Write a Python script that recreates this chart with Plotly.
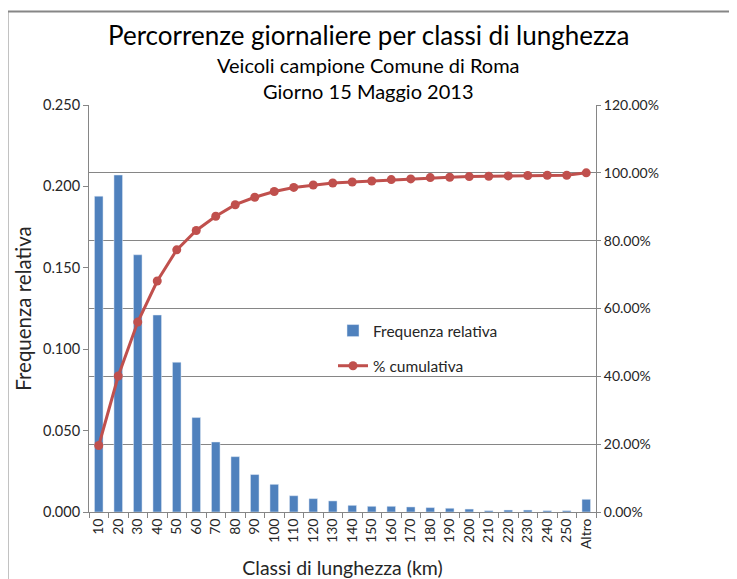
import plotly.graph_objects as go

# Data
classi = ['10', '20', '30', '40', '50', '60', '70', '80', '90', '100',
          '110', '120', '130', '140', '150', '160', '170', '180', '190', '200',
          '210', '220', '230', '240', '250', 'Altro']
frequenza = [0.194, 0.207, 0.158, 0.121, 0.092, 0.058, 0.043, 0.034, 0.023, 0.017,
             0.010, 0.0082, 0.0068, 0.0041, 0.0035, 0.0035, 0.0031, 0.0027, 0.0023, 0.0018,
             0.0008, 0.0012, 0.0012, 0.0008, 0.0008, 0.0078]
cumulativa = [0.196, 0.401, 0.560, 0.681, 0.773, 0.830, 0.872, 0.906, 0.928, 0.945,
              0.957, 0.964, 0.970, 0.973, 0.976, 0.980, 0.982, 0.986, 0.987, 0.989,
              0.990, 0.991, 0.992, 0.993, 0.993, 1.000]

COLORS = {
    'bar': '#4F81BD',
    'line': '#C0504D',
    'axis': '#868686',
    'text': '#262626',
}
FONT = 'Lato, sans-serif'

# page offset of the figure (body margin) and plot area in page pixels
OFF = 8
FIG_W, FIG_H = 737 - OFF, 579 - OFF
L, T = 89 - OFF, 105 - OFF
W, H = 507, 407
R, B = FIG_W - L - W, FIG_H - T - H


def px_x(x):
    # page pixel -> paper x
    return (x - OFF - L) / W


def px_y(y):
    # page pixel -> paper y
    return (T + H - (y - OFF)) / H


fig = go.Figure()

fig.add_trace(go.Bar(
    x=classi, y=frequenza,
    name='Frequenza relativa',
    marker_color=COLORS['bar'],
    legendgroup='a',
    yaxis='y',
))

fig.add_trace(go.Scatter(
    x=classi, y=cumulativa,
    name='% cumulativa',
    mode='lines+markers',
    line=dict(color=COLORS['line'], width=3),
    marker=dict(color=COLORS['line'], size=9),
    legendgroup='b',
    yaxis='y2',
))

fig.update_layout(
    width=FIG_W, height=FIG_H,
    margin=dict(l=L, r=R, t=T, b=B, autoexpand=False),
    paper_bgcolor='white',
    plot_bgcolor='white',
    font=dict(family=FONT, color=COLORS['text'], size=14),
    bargap=0.56,
    showlegend=True,
    legend=dict(
        x=px_x(333), y=px_y(314), xanchor='left', yanchor='top',
        bgcolor='rgba(0,0,0,0)',
        font=dict(size=15.5, family=FONT),
        traceorder='grouped',
        tracegroupgap=12,
        itemwidth=30,
    ),
    xaxis=dict(
        type='category',
        range=[-0.5, len(classi) - 0.5],
        tickson='boundaries',
        ticks='outside', ticklen=5, tickcolor=COLORS['axis'],
        tickangle=-90,
        showline=True, linecolor=COLORS['axis'], linewidth=1,
        showgrid=False,
        automargin=False,
        tickfont=dict(size=14),
        title=dict(text='Classi di lunghezza (km)', font=dict(size=19.5), standoff=15),
    ),
    yaxis=dict(
        range=[0, 0.25], dtick=0.05, tickformat='.3f',
        ticks='outside', ticklen=5, tickcolor=COLORS['axis'],
        showline=True, linecolor=COLORS['axis'], linewidth=1,
        showgrid=False, zeroline=False,
        automargin=False,
        tickfont=dict(size=14.5),
        title=dict(text='Frequenza relativa', font=dict(size=20.5), standoff=5),
    ),
    yaxis2=dict(
        overlaying='y', side='right',
        range=[0, 1.2], dtick=0.2, tickformat='.2%',
        ticks='outside', ticklen=4, tickcolor=COLORS['axis'],
        showline=True, linecolor=COLORS['axis'], linewidth=1,
        showgrid=True, gridcolor=COLORS['axis'], gridwidth=1,
        zeroline=False,
        automargin=False,
        tickfont=dict(size=14),
    ),
    shapes=[
        # outer chart frame (left and top edges visible)
        dict(type='line', xref='paper', yref='paper',
             x0=px_x(7.5), x1=px_x(7.5), y0=px_y(11.5), y1=px_y(600),
             line=dict(color=COLORS['axis'], width=2)),
        dict(type='line', xref='paper', yref='paper',
             x0=px_x(7.5), x1=px_x(760), y0=px_y(11.5), y1=px_y(11.5),
             line=dict(color=COLORS['axis'], width=2)),
    ],
    annotations=[
        dict(text='Percorrenze giornaliere per classi di lunghezza',
             xref='paper', yref='paper', x=px_x(368), y=px_y(35),
             xanchor='center', yanchor='middle', showarrow=False,
             font=dict(size=26, color='black')),
        dict(text='Veicoli campione Comune di Roma',
             xref='paper', yref='paper', x=px_x(368), y=px_y(65),
             xanchor='center', yanchor='middle', showarrow=False,
             font=dict(size=20, color='black')),
        dict(text='Giorno 15 Maggio 2013',
             xref='paper', yref='paper', x=px_x(368), y=px_y(91),
             xanchor='center', yanchor='middle', showarrow=False,
             font=dict(size=20, color='black')),
    ],
)

fig.write_html("out.html")
